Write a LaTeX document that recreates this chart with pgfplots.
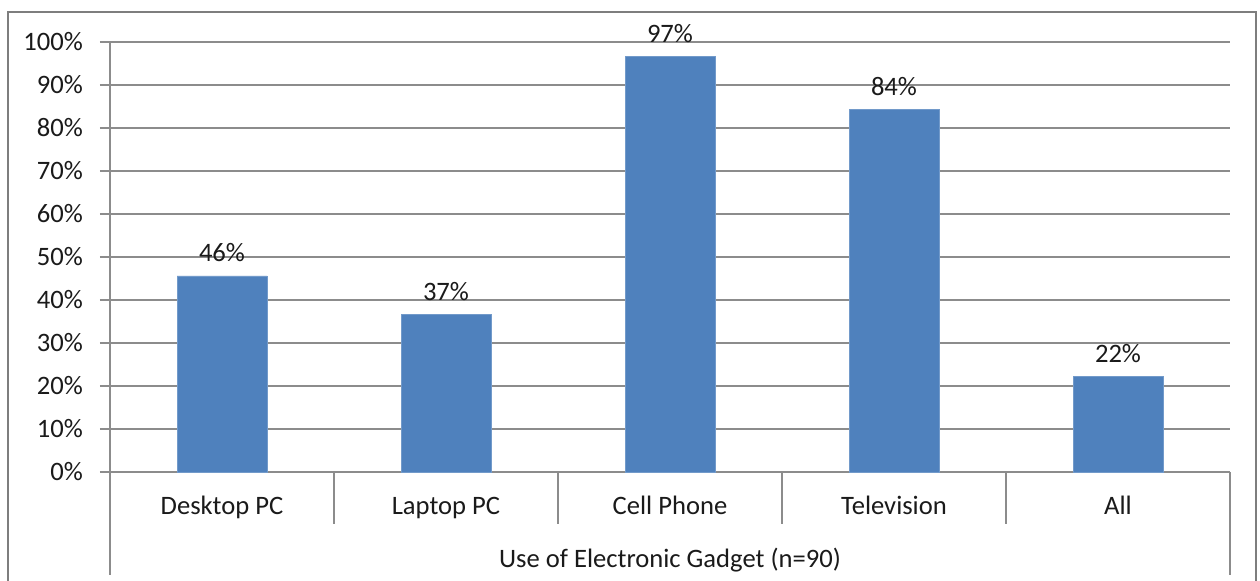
\documentclass[border=0pt]{standalone}
\usepackage{pgfplots}
\pgfplotsset{compat=1.18}
\usepackage{fontspec}
\setmainfont{Carlito}
\definecolor{barblue}{HTML}{4F81BD}
\definecolor{gridgray}{HTML}{8C8C8C}
\definecolor{txt}{HTML}{1A1A1A}
\newcommand{\cf}{\fontsize{13.3}{15}\selectfont}
\begin{document}
\begin{tikzpicture}
\useasboundingbox (0,0) rectangle (630pt,290.5pt);
\clip (0,0) rectangle (630pt,290.5pt);
\begin{axis}[
  at={(55pt,54.5pt)}, anchor=south west,
  scale only axis, width=560pt, height=215pt,
  xmin=-0.5, xmax=4.5, ymin=0, ymax=100,
  axis x line*=bottom, axis y line*=left,
  axis line style={gridgray, line width=0.6pt, -},
  ytick={0,10,...,100},
  yticklabel={\pgfmathprintnumber{\tick}\%},
  /pgf/number format/assume math mode=true,
  ymajorgrids, grid style={gridgray, line width=0.6pt},
  tick align=outside,
  ytick style={gridgray, line width=0.6pt},
  major tick length=5pt,
  yticklabel style={font=\cf, text=txt, anchor=east, xshift=-5pt},
  xtick={0,1,2,3,4},
  xticklabels={Desktop PC, Laptop PC, Cell Phone, Television, All},
  x tick style={draw=none},
  xticklabel style={font=\cf, text=txt, anchor=base, yshift=-16.5pt},
  xlabel={Use of Electronic Gadget (n=90)},
  xlabel style={font=\cf, text=txt, at={(axis description cs:0.5,0)}, anchor=base, yshift=-48pt},
  ybar, bar width=45pt,
  point meta=explicit symbolic,
  nodes near coords,
  nodes near coords style={font=\cf, text=txt, anchor=base, yshift=7pt},
  clip=false,
]
\addplot[fill=barblue, draw=barblue!80!white] coordinates {
  (0,45.6) [46\%]
  (1,36.7) [37\%]
  (2,96.7) [97\%]
  (3,84.4) [84\%]
  (4,22.2) [22\%]
};
\end{axis}
% category table lines (pixel -> pt: x*0.5, (581-y)*0.5)
\draw[gridgray, line width=0.6pt] (55pt,54.5pt) -- (55pt,3pt);
\draw[gridgray, line width=0.6pt] (615pt,54.5pt) -- (615pt,3pt);
\foreach \k in {1,2,3,4} {
  \draw[gridgray, line width=0.6pt] ({55pt+\k*112pt},54.5pt) -- ({55pt+\k*112pt},28.5pt);
}
% outer chart border
\draw[gridgray!90!black, line width=1pt] (4pt,-5pt) -- (4pt,284.5pt) -- (628pt,284.5pt) -- (628pt,-5pt);
\end{tikzpicture}
\end{document}
